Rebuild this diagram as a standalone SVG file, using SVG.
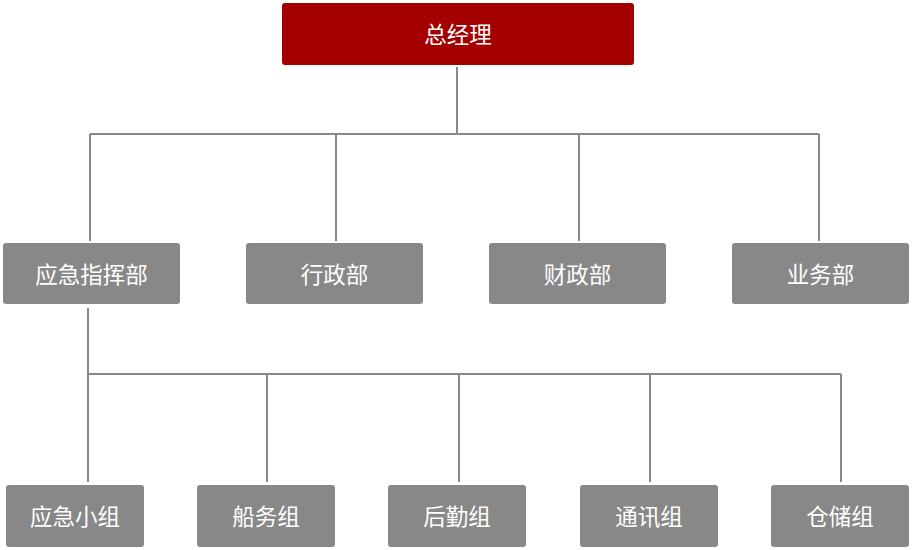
<svg xmlns="http://www.w3.org/2000/svg" width="912" height="550" viewBox="0 0 912 550">
<style>
.box{fill:#888888}
.top{fill:#A50000}
.t{font-family:"Noto Sans CJK SC","Noto Sans",sans-serif;font-size:22.5px;fill:#ffffff;text-anchor:middle;dominant-baseline:central}
.c{stroke:#888888;stroke-width:2;fill:none}
</style>
<rect width="912" height="550" fill="#ffffff"/>
<g id="connectors">
<path class="c" d="M457 67V134M90 134H819M90 134V241M336 134V241M579 134V241M819 134V241"/>
<path class="c" d="M88 308V374M88 374H841M88 374V482M267 374V482M459 374V482M650 374V482M841 374V482"/>
</g>
<g id="n-gm"><rect class="top" x="282" y="3" width="352" height="62" rx="3"/><text class="t" x="458" y="32.5">总经理</text></g>
<g id="n-yjzhb"><rect class="box" x="3" y="243" width="177" height="61" rx="3"/><text class="t" x="91.5" y="272.5">应急指挥部</text></g>
<g id="n-xzb"><rect class="box" x="246" y="243" width="177" height="61" rx="3"/><text class="t" x="334.5" y="272.5">行政部</text></g>
<g id="n-czb"><rect class="box" x="489" y="243" width="177" height="61" rx="3"/><text class="t" x="577.5" y="272.5">财政部</text></g>
<g id="n-ywb"><rect class="box" x="732" y="243" width="177" height="61" rx="3"/><text class="t" x="820.5" y="272.5">业务部</text></g>
<g id="n-yjxz"><rect class="box" x="6" y="485" width="138" height="62" rx="3"/><text class="t" x="75" y="514.5">应急小组</text></g>
<g id="n-swz"><rect class="box" x="197" y="485" width="138" height="62" rx="3"/><text class="t" x="266" y="514.5">船务组</text></g>
<g id="n-hqz"><rect class="box" x="388" y="485" width="138" height="62" rx="3"/><text class="t" x="457" y="514.5">后勤组</text></g>
<g id="n-txz"><rect class="box" x="580" y="485" width="138" height="62" rx="3"/><text class="t" x="649" y="514.5">通讯组</text></g>
<g id="n-ccz"><rect class="box" x="771" y="485" width="138" height="62" rx="3"/><text class="t" x="840" y="514.5">仓储组</text></g>
</svg>
